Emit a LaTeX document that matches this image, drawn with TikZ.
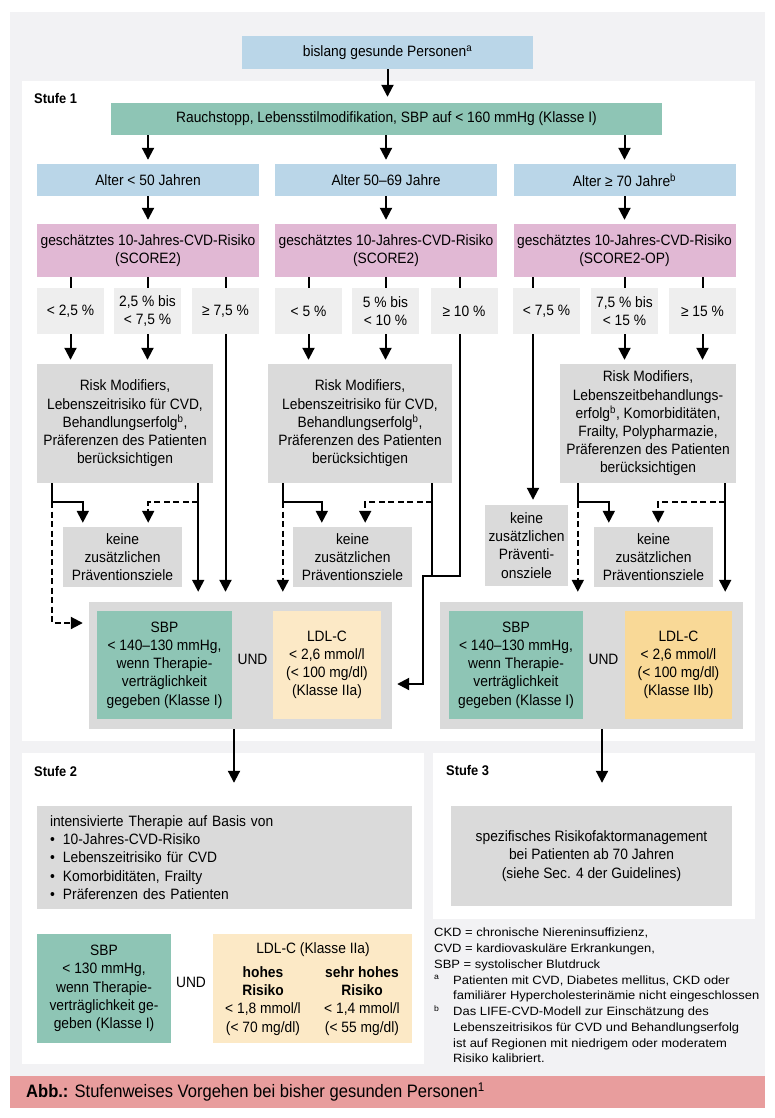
\documentclass[tikz,border=0pt]{standalone}
\usepackage{fontspec}
\setmainfont{Liberation Sans}[FakeStretch=0.92]
\newfontfamily\notefont{Liberation Sans}[FakeStretch=1.08]
\usetikzlibrary{arrows.meta}

\definecolor{bggrey}{HTML}{F2F2F4}
\definecolor{ageblue}{HTML}{BAD6E8}
\definecolor{lsgreen}{HTML}{8EC5B5}
\definecolor{scorepink}{HTML}{E1B8D4}
\definecolor{thrgrey}{HTML}{EEEEEE}
\definecolor{boxgrey}{HTML}{DADADA}
\definecolor{ldllight}{HTML}{FCE9C6}
\definecolor{ldldark}{HTML}{F9D997}
\definecolor{capred}{HTML}{E89D9D}

\newcommand\boxfont{\fontsize{15pt}{18.2pt}\selectfont}
\newcommand\notesize{\notefont\fontsize{12pt}{15.75pt}\selectfont}
\newcommand\bul{\makebox[13pt][l]{\textbullet}}
\newcommand\fnmark[1]{\makebox[19pt][l]{\textsuperscript{#1}}}

\tikzset{
  box/.style={inner sep=1pt, align=center, font=\boxfont},
  agebox/.style={box, fill=ageblue, minimum width=222pt, minimum height=32pt},
  scorebox/.style={box, fill=scorepink, minimum width=222pt, minimum height=53pt},
  thrbox/.style={box, fill=thrgrey, minimum width=67pt, minimum height=46pt},
  riskbox/.style={box, fill=boxgrey, minimum height=119pt},
  nonebox/.style={box, fill=boxgrey, minimum width=119pt, minimum height=60pt},
  undbox/.style={fill=boxgrey, minimum width=303pt, minimum height=127pt},
  sbpbox/.style={box, fill=lsgreen, minimum height=108pt},
  ldlbox/.style={box, minimum height=108pt},
  stufe/.style={font=\bfseries\fontsize{14pt}{16pt}\selectfont, anchor=west, inner sep=0pt},
  link/.style={line width=2pt},
  arr/.style={link, -{Triangle[length=12pt,width=12pt]}, shorten >=4pt},
  darr/.style={arr, dash pattern=on 6pt off 3.5pt},
}

\begin{document}
\begin{tikzpicture}[x=1pt,y=-1pt]
\useasboundingbox (0,0) rectangle (775,1118);

% Hintergrund und Felder
\fill[bggrey] (10,12) rectangle (765,1076);
\fill[capred] (10,1076) rectangle (765,1108);
\fill[white] (22,81) rectangle (755,741);
\fill[white] (22,753) rectangle (424,1064);
\fill[white] (433,753) rectangle (755,919);

\node[stufe] (st1) at (34,98) {Stufe 1};
\node[stufe] (st2) at (34,771) {Stufe 2};
\node[stufe] (st3) at (446,770) {Stufe 3};

% Stufe 1
\node[box, fill=ageblue, minimum width=291pt, minimum height=33pt] (start) at (387.5,52.5) {bislang gesunde Personen\textsuperscript{a}};
\node[box, fill=lsgreen, minimum width=551pt, minimum height=32pt] (rauch) at (386.5,119) {Rauchstopp, Lebensstilmodifikation, SBP auf < 160 mmHg (Klasse I)};

\node[agebox] (age1) at (148,180) {Alter < 50 Jahren};
\node[agebox] (age2) at (386,180) {Alter 50–69 Jahre};
\node[agebox] (age3) at (624.5,180) {Alter ≥ 70 Jahre\textsuperscript{b}};

\node[scorebox] (score1) at (148,250.5) {geschätztes 10-Jahres-CVD-Risiko\\(SCORE2)};
\node[scorebox] (score2) at (386,250.5) {geschätztes 10-Jahres-CVD-Risiko\\(SCORE2)};
\node[scorebox] (score3) at (624.5,250.5) {geschätztes 10-Jahres-CVD-Risiko\\(SCORE2-OP)};

\node[thrbox] (t11) at (70.5,311) {< 2,5 \%};
\node[thrbox] (t12) at (147.5,311) {2,5 \% bis\\< 7,5 \%};
\node[thrbox] (t13) at (225.5,311) {≥ 7,5 \%};
\node[thrbox] (t21) at (308.5,311) {< 5 \%};
\node[thrbox] (t22) at (385.5,311) {5 \% bis\\< 10 \%};
\node[thrbox] (t23) at (464,311) {≥ 10 \%};
\node[thrbox] (t31) at (546.5,311) {< 7,5 \%};
\node[thrbox] (t32) at (624.5,311) {7,5 \% bis\\< 15 \%};
\node[thrbox] (t33) at (702.5,311) {≥ 15 \%};

\node[riskbox, minimum width=176pt] (risk1) at (125,423.5) {Risk Modifiers,\\Lebenszeitrisiko für CVD,\\Behandlungserfolg\textsuperscript{b},\\Präferenzen des Patienten\\berücksichtigen};
\node[riskbox, minimum width=184pt] (risk2) at (360,423.5) {Risk Modifiers,\\Lebenszeitrisiko für CVD,\\Behandlungserfolg\textsuperscript{b},\\Präferenzen des Patienten\\berücksichtigen};
\node[riskbox, minimum width=176pt] (risk3) at (648,423.5) {Risk Modifiers,\\Lebenszeitbehandlungs-\\erfolg\textsuperscript{b}, Komorbiditäten,\\Frailty, Polypharmazie,\\Präferenzen des Patienten\\berücksichtigen};

\node[nonebox] (none1) at (122.5,557) {keine\\zusätzlichen\\Präventionsziele};
\node[nonebox] (none2) at (352.5,557) {keine\\zusätzlichen\\Präventionsziele};
\node[nonebox] (none3) at (653.5,557) {keine\\zusätzlichen\\Präventionsziele};
\node[box, fill=boxgrey, minimum width=83pt, minimum height=81pt] (none3b) at (526.5,545.5) {keine\\zusätzlichen\\Präventi-\\onsziele};

\node[undbox] (und1) at (240.5,665.5) {};
\node[sbpbox, minimum width=135pt] (sbp1) at (164.5,665) {SBP\\< 140–130 mmHg,\\wenn Therapie-\\verträglichkeit\\gegeben (Klasse I)};
\node[box] (and1) at (252.5,659) {UND};
\node[ldlbox, fill=ldllight, minimum width=108pt] (ldl1) at (327,665) {LDL-C\\< 2,6 mmol/l\\(< 100 mg/dl)\\(Klasse IIa)};

\node[undbox] (und2) at (591.5,665.5) {};
\node[sbpbox, minimum width=134pt] (sbp2) at (516,665) {SBP\\< 140–130 mmHg,\\wenn Therapie-\\verträglichkeit\\gegeben (Klasse I)};
\node[box] (and2) at (603.5,659) {UND};
\node[ldlbox, fill=ldldark, minimum width=107pt] (ldl2) at (678.5,665) {LDL-C\\< 2,6 mmol/l\\(< 100 mg/dl)\\(Klasse IIb)};

% Stufe 2
\node[box, fill=boxgrey, align=left, text width=349pt, inner xsep=13pt, minimum height=103pt] (intens) at (224.5,857.5) {intensivierte Therapie auf Basis von\\\bul 10-Jahres-CVD-Risiko\\\bul Lebenszeitrisiko für CVD\\\bul Komorbiditäten, Frailty\\\bul Präferenzen des Patienten};
\node[sbpbox, minimum width=134pt, minimum height=109pt] (sbp3) at (104,988.5) {SBP\\< 130 mmHg,\\wenn Therapie-\\verträglichkeit ge-\\geben (Klasse I)};
\node[box] (and3) at (191,982) {UND};
\node[ldlbox, fill=ldllight, minimum width=199pt, minimum height=109pt] (ldl3) at (312.5,988.5) {};
\node[box] (ldl3h) at (313,950) {LDL-C (Klasse IIa)};
\node[box] (ldl3a) at (263,1001) {\textbf{hohes}\\\textbf{Risiko}\\< 1,8 mmol/l\\(< 70 mg/dl)};
\node[box] (ldl3b) at (362,1001) {\textbf{sehr hohes}\\\textbf{Risiko}\\< 1,4 mmol/l\\(< 55 mg/dl)};

% Stufe 3
\node[box, fill=boxgrey, minimum width=281pt, minimum height=100pt] (spez) at (591.5,856) {spezifisches Risikofaktormanagement\\bei Patienten ab 70 Jahren\\(siehe Sec. 4 der Guidelines)};

\node[anchor=north west, inner sep=0pt, align=left, font=\notesize] (notes) at (434,928) {CKD = chronische Niereninsuffizienz,\\CVD = kardiovaskuläre Erkrankungen,\\SBP = systolischer Blutdruck\\\fnmark{a}Patienten mit CVD, Diabetes mellitus, CKD oder\\\hspace*{19pt}familiärer Hypercholesterinämie nicht eingeschlossen\\\fnmark{b}Das LIFE-CVD-Modell zur Einschätzung des\\\hspace*{19pt}Lebenszeitrisikos für CVD und Behandlungserfolg\\\hspace*{19pt}ist auf Regionen mit niedrigem oder moderatem\\\hspace*{19pt}Risiko kalibriert.};

\node[anchor=west, inner sep=0pt, font=\fontsize{18pt}{20pt}\selectfont] (caption) at (26,1092) {\textbf{Abb.:} Stufenweises Vorgehen bei bisher gesunden Personen\textsuperscript{1}};

% Verbindungen
\coordinate (r1l) at ([xshift=15pt]risk1.south west);
\coordinate (r1r) at ([xshift=-15pt]risk1.south east);
\coordinate (r2l) at ([xshift=15pt]risk2.south west);
\coordinate (r2r) at ([xshift=-20pt]risk2.south east);
\coordinate (r3l) at ([xshift=18pt]risk3.south west);
\coordinate (r3r) at ([xshift=-11pt]risk3.south east);
\coordinate (t23t) at ([xshift=-4pt]t23.north);
\coordinate (t23b) at ([xshift=-4pt]t23.south);
\coordinate (t31t) at ([xshift=-13.5pt]t31.north);
\coordinate (t31b) at ([xshift=-13.5pt]t31.south);
\coordinate (j2) at (423,576);
\coordinate (u1b) at ([xshift=-6.5pt]und1.south);
\coordinate (u2b) at ([xshift=10.5pt]und2.south);

\draw[arr, shorten >=6pt] (start.south) -- (start.south |- rauch.north);
\foreach \c in {1,2,3} {
  \draw[arr] (age\c.north |- rauch.south) -- (age\c.north);
  \draw[arr] (age\c) -- (score\c);
}
\foreach \c/\t in {1/t11,1/t12,1/t13,2/t21,2/t22,3/t32,3/t33}
  \draw[link] (\t.north |- score\c.south) -- (\t.north);
\draw[link] (t23t |- score2.south) -- (t23t);
\draw[link] (t31t |- score3.south) -- (t31t);
\foreach \t/\r in {t11/risk1,t12/risk1,t21/risk2,t22/risk2,t32/risk3,t33/risk3}
  \draw[arr] (\t.south) -- (\t.south |- \r.north);
\draw[arr, shorten >=10pt] (t13.south) -- (t13.south |- und1.north);

% Spalte 1
\draw[arr] (r1l) -- ++(0,19) -| ([xshift=20pt]none1.north west);
\draw[darr, shorten >=6pt] (r1l) ++(0,19) |- ([yshift=42.5pt]und1.west);
\draw[arr, shorten >=10pt] (r1r) -- (r1r |- und1.north);
\draw[darr] (r1r) ++(0,19) -| ([xshift=-34pt]none1.north east);

% Spalte 2
\draw[arr] (r2l) -- ++(0,19) -| ([xshift=29pt]none2.north west);
\draw[darr, shorten >=10pt] (r2l) ++(0,19) -- (r2l |- und1.north);
\draw[darr] (r2r) ++(0,19) -| ([xshift=-47pt]none2.north east);
\draw[link] (r2r) -- (r2r |- j2);
\draw[arr, shorten >=5pt] (t23b) |- (j2) |- ([yshift=-18.5pt]und1.east);

% Spalte 3
\draw[arr, shorten >=5pt] (t31b) -- (t31b |- none3b.north);
\draw[arr] (r3l) -- ++(0,19) -| ([xshift=15pt]none3.north west);
\draw[darr, shorten >=10pt] (r3l) ++(0,19) -- (r3l |- und2.north);
\draw[arr, shorten >=10pt] (r3r) -- (r3r |- und2.north);
\draw[darr] (r3r) ++(0,19) -| ([xshift=-55pt]none3.north east);

% Stufe 2 und 3
\draw[arr, shorten >=23pt] (u1b) -- (u1b |- intens.north);
\draw[arr, shorten >=23pt] (u2b) -- (u2b |- spez.north);
\end{tikzpicture}
\end{document}
